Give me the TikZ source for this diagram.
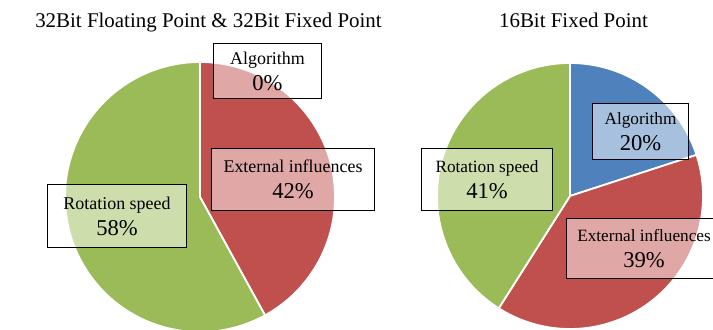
\documentclass[tikz,border=0pt]{standalone}
\usepackage{fontspec}
\setmainfont{Liberation Serif}
\definecolor{pgreen}{RGB}{155,187,89}
\definecolor{pred}{RGB}{192,80,77}
\definecolor{pblue}{RGB}{79,129,189}
\newcommand\pielabel[2]{#1\\{\fontsize{22.7}{26}\selectfont #2}}
\begin{document}
\begin{tikzpicture}[x=1bp,y=1bp,
  slice/.style={draw=white, line width=1.8bp, line join=round},
  databox/.style={draw=black, line width=1.1bp, fill=white, fill opacity=0.5,
    text opacity=1, inner sep=0pt, align=center, font=\fontsize{18}{26}\selectfont},
  smallbox/.style={databox, font=\fontsize{17.3}{26}\selectfont},
  charttitle/.style={anchor=base, inner sep=0pt, font=\fontsize{21}{25}\selectfont}]
\useasboundingbox (0,0) rectangle (713,329);
\clip (0,0) rectangle (713,329);

% left chart
\coordinate (L) at (200,132);
\fill[pred, slice] (L) -- ++(90:135) arc[start angle=90, end angle=-61.2, radius=135] -- cycle;
\fill[pgreen, slice] (L) -- ++(-61.2:135) arc[start angle=-61.2, end angle=-270, radius=135] -- cycle;
\draw[white, line width=1.8bp] (L) -- ++(90:135);

% right chart
\coordinate (R) at (570,133);
\fill[pblue, slice] (R) -- ++(90:133) arc[start angle=90, end angle=18, radius=133] -- cycle;
\fill[pred, slice] (R) -- ++(18:133) arc[start angle=18, end angle=-122.4, radius=133] -- cycle;
\fill[pgreen, slice] (R) -- ++(-122.4:133) arc[start angle=-122.4, end angle=-270, radius=133] -- cycle;

% titles
\node[charttitle] (t1) at (208.5,302) {32Bit Floating Point \& 32Bit Fixed Point};
\node[charttitle] (t2) at (573.5,302) {16Bit Fixed Point};

% data labels, left chart
\node[databox, minimum width=109, minimum height=56] (la) at (267.5,258) {\pielabel{Algorithm}{0\%}};
\node[databox, minimum width=164, minimum height=63] (le) at (293,149.5) {\pielabel{External influences}{42\%}};
\node[databox, minimum width=140, minimum height=64] (lr) at (117,113) {\pielabel{Rotation speed}{58\%}};

% data labels, right chart
\node[smallbox, minimum width=97, minimum height=57] (ra) at (640.5,197.5) {\pielabel{Algorithm}{20\%}};
\node[smallbox, minimum width=132, minimum height=63] (rr) at (487,149.5) {\pielabel{Rotation speed}{41\%}};
\node[smallbox, minimum width=156, minimum height=61] (re) at (644,80.5) {\pielabel{External influences}{39\%}};
\end{tikzpicture}
\end{document}
